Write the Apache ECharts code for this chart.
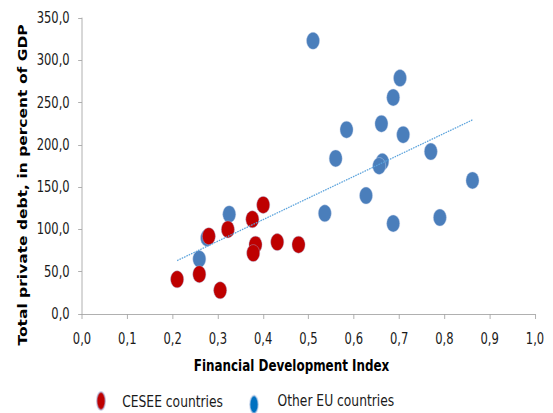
<!DOCTYPE html>
<html>
<head>
<meta charset="utf-8">
<script src="https://cdn.jsdelivr.net/npm/echarts@6/dist/echarts.min.js"></script>
<style>
  html, body { margin: 0; padding: 0; background: #fff; overflow: hidden; }
  #wrap { width: 553px; height: 413px; overflow: hidden; }
  /* chart is laid out wide and squeezed horizontally */
  #chart { width: 718px; height: 413px; transform: scaleX(0.77); transform-origin: 0 0; }
</style>
</head>
<body>
<div id="wrap"><div id="chart"></div></div>
<script>
// Financial Development Index (x) vs. total private debt in % of GDP (y)
const cseeX  = [0.210, 0.259, 0.305, 0.322, 0.280, 0.376, 0.400, 0.383, 0.378, 0.431, 0.478];
const cseeY  = [41, 47, 28, 100, 92, 112, 129, 82, 72, 85, 82];
const otherX = [0.510, 0.702, 0.687, 0.584, 0.661, 0.709, 0.770, 0.560, 0.663, 0.656, 0.862,
                0.627, 0.536, 0.687, 0.790, 0.325, 0.259, 0.276];
const otherY = [323, 279, 256, 218, 225, 212, 192, 184, 180, 175, 158,
                140, 119, 107, 114, 118, 65, 90];

const seriesNames = ['CESEE countries', 'Other EU countries'];
const xTicks = [0, 0.1, 0.2, 0.3, 0.4, 0.5, 0.6, 0.7, 0.8, 0.9, 1.0];
const yTicks = [0, 50, 100, 150, 200, 250, 300, 350];
const xTitle = 'Financial Development Index';
const yTitle = 'Total private debt, in percent of GDP';

// least-squares trend over all countries
const allX = cseeX.concat(otherX);
const allY = cseeY.concat(otherY);
const n = allX.length;
const mx = allX.reduce((a, b) => a + b, 0) / n;
const my = allY.reduce((a, b) => a + b, 0) / n;
let sxy = 0, sxx = 0;
for (let i = 0; i < n; i++) {
  sxy += (allX[i] - mx) * (allY[i] - my);
  sxx += (allX[i] - mx) * (allX[i] - mx);
}
const slope = sxy / sxx;
const icpt = my - slope * mx;
const x0 = Math.min(...allX), x1 = Math.max(...allX);
const trend = [[x0, icpt + slope * x0], [x1, icpt + slope * x1]];

const pairs = (xs, ys) => xs.map((x, i) => [x, ys[i]]);
const comma1 = v => v.toFixed(1).replace('.', ',');

const RED = '#BE0000';
const BLUE = '#4A7EBB';
const ELLIPSE = 'path://M0,-1A1,1 0 1,1 0,1A1,1 0 1,1 0,-1Z';
const FONT = 'DejaVu Sans';

const chart = echarts.init(document.getElementById('chart'), null, { renderer: 'svg' });
chart.setOption({
  backgroundColor: '#fff',
  animation: false,
  grid: { left: 106.5, right: 23.2, top: 18, bottom: 99 },
  xAxis: {
    type: 'value',
    min: xTicks[0], max: xTicks[xTicks.length - 1], interval: xTicks[1] - xTicks[0],
    axisLine: { show: true, lineStyle: { color: '#A6A6A6', width: 1 } },
    axisTick: { show: true, length: 5, lineStyle: { color: '#A6A6A6' } },
    splitLine: { show: false },
    axisLabel: { formatter: comma1, fontFamily: FONT, fontSize: 15, color: '#1a1a1a', margin: 17 }
  },
  yAxis: {
    type: 'value',
    min: yTicks[0], max: yTicks[yTicks.length - 1], interval: yTicks[1] - yTicks[0],
    axisLine: { show: true, lineStyle: { color: '#A6A6A6', width: 1 } },
    axisTick: { show: true, length: 5, lineStyle: { color: '#A6A6A6' } },
    splitLine: { show: false },
    axisLabel: { formatter: comma1, fontFamily: FONT, fontSize: 15, color: '#1a1a1a', margin: 16 }
  },
  legend: [
    {
      data: [{ name: seriesNames[0], icon: ELLIPSE, itemStyle: { color: RED } }],
      left: 124.7, top: 391, padding: 0,
      itemWidth: 11, itemHeight: 18, symbolKeepAspect: false,
      textStyle: { fontFamily: FONT, fontSize: 16, color: '#1a1a1a', padding: [0, 0, 0, 17] }
    },
    {
      data: [{ name: seriesNames[1], icon: ELLIPSE, itemStyle: { color: '#0070C0' } }],
      left: 323.4, top: 392, padding: 0,
      itemWidth: 11, itemHeight: 18, symbolKeepAspect: false,
      formatter: '{t|{name}}',
      textStyle: {
        fontFamily: FONT, fontSize: 16, color: '#1a1a1a', padding: [0, 0, 0, 20],
        rich: { t: { fontFamily: FONT, fontSize: 16, color: '#1a1a1a', padding: [0, 0, 9, 0] } }
      }
    }
  ],
  graphic: [
    {
      type: 'text', x: 29.9, y: 185, rotation: Math.PI / 2,
      style: { text: yTitle, font: 'bold 15.5px "DejaVu Sans"', fill: '#000',
               align: 'center', verticalAlign: 'middle' }
    },
    {
      type: 'text', x: 378.6, y: 365,
      style: { text: xTitle, font: 'bold 15.5px "DejaVu Sans"', fill: '#000',
               align: 'center', verticalAlign: 'middle' }
    }
  ],
  series: [
    {
      name: seriesNames[1], type: 'scatter', z: 2,
      data: pairs(otherX, otherY),
      symbol: 'circle', symbolSize: 17,
      itemStyle: { color: BLUE, opacity: 1, borderColor: 'rgba(200,212,235,0.6)', borderWidth: 0.8 }
    },
    {
      name: seriesNames[0], type: 'scatter', z: 3,
      data: pairs(cseeX, cseeY),
      symbol: 'circle', symbolSize: 17,
      itemStyle: { color: RED, opacity: 1, borderColor: 'rgba(170,175,215,0.6)', borderWidth: 0.8 }
    },
    {
      name: 'trend', type: 'line', z: 4,
      data: trend, symbol: 'none', silent: true,
      lineStyle: { color: '#5BA3DC', width: 1.3, type: [2, 1.2] }
    }
  ]
});
</script>
</body>
</html>
